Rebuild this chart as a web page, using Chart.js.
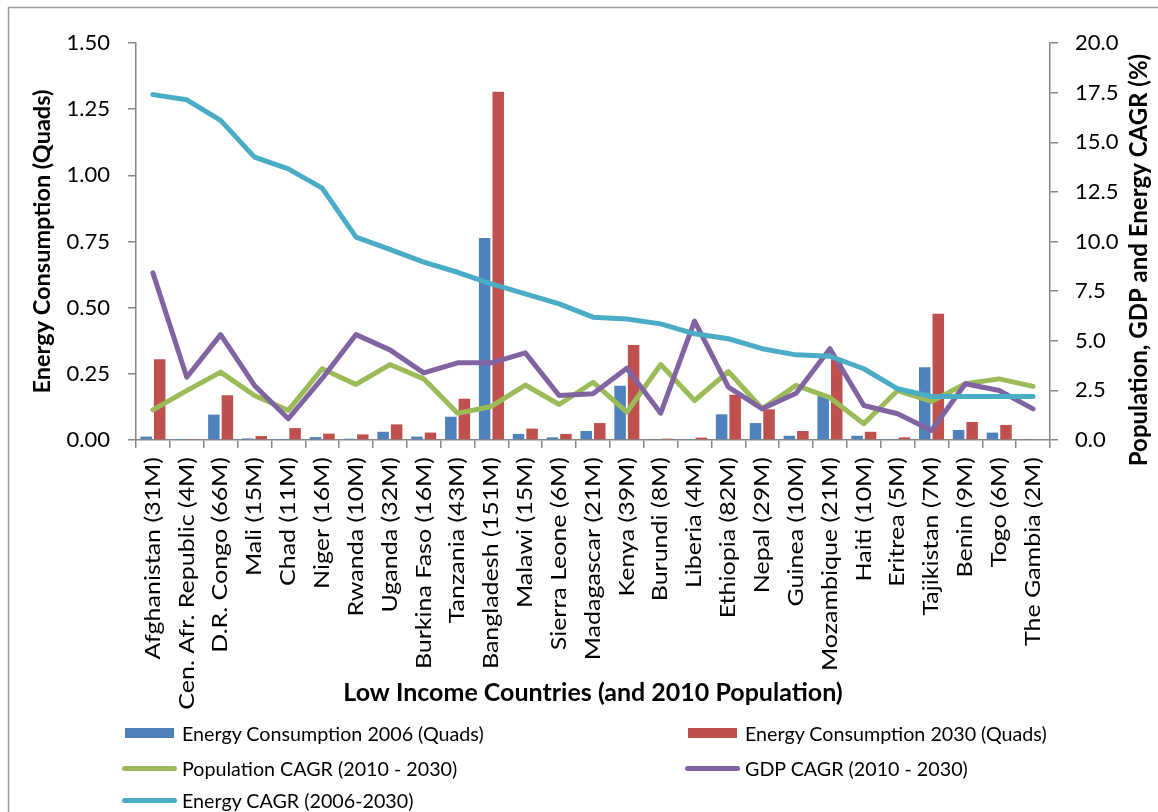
<!DOCTYPE html>
<html>
<head>
<meta charset="utf-8">
<title>Low Income Countries – Energy Consumption and Growth</title>
<script src="https://cdn.jsdelivr.net/npm/chart.js@4.4.1/dist/chart.umd.min.js"></script>
<style>
  html, body { margin: 0; padding: 0; background: #ffffff; overflow: hidden; }
  #wrap { position: relative; width: 1158px; height: 812px; }
  #chart { position: absolute; left: 0; top: 0; }
  .legend-item { position: absolute; height: 30px; display: flex; align-items: center;
                 font-family: Lato, "Open Sans", sans-serif; font-size: 19.7px; color: #000; white-space: nowrap; }
  .swatch { display: inline-block; margin-right: 6px; }
</style>
</head>
<body>
<div id="wrap">
  <canvas id="chart" width="1158" height="812"></canvas>
</div>
<script>
// Countries with their 2010 population
const categories = [
  "Afghanistan (31M)", "Cen. Afr. Republic (4M)", "D.R. Congo (66M)", "Mali (15M)",
  "Chad (11M)", "Niger (16M)", "Rwanda (10M)", "Uganda (32M)", "Burkina Faso (16M)",
  "Tanzania (43M)", "Bangladesh (151M)", "Malawi (15M)", "Sierra Leone (6M)",
  "Madagascar (21M)", "Kenya (39M)", "Burundi (8M)", "Liberia (4M)", "Ethiopia (82M)",
  "Nepal (29M)", "Guinea (10M)", "Mozambique (21M)", "Haiti (10M)", "Eritrea (5M)",
  "Tajikistan (7M)", "Benin (9M)", "Togo (6M)", "The Gambia (2M)"
];

// Energy consumption, quadrillion BTU
const energy2006 = [0.013, 0.001, 0.096, 0.006, 0.001, 0.011, 0.005, 0.031, 0.013, 0.088,
                    0.763, 0.023, 0.010, 0.034, 0.205, 0.002, 0.002, 0.097, 0.064, 0.016,
                    0.167, 0.016, 0.004, 0.275, 0.038, 0.028, 0.002];
const energy2030 = [0.305, 0.004, 0.169, 0.015, 0.045, 0.024, 0.021, 0.059, 0.028, 0.156,
                    1.316, 0.043, 0.023, 0.064, 0.359, 0.005, 0.009, 0.171, 0.116, 0.034,
                    0.310, 0.031, 0.010, 0.477, 0.068, 0.057, 0.003];

// Compound annual growth rates, %
const populationCagr = [1.52, 2.49, 3.42, 2.24, 1.49, 3.59, 2.80, 3.80, 3.08, 1.35,
                        1.69, 2.77, 1.79, 2.91, 1.40, 3.80, 1.99, 3.45, 1.57, 2.75,
                        2.13, 0.82, 2.49, 1.94, 2.83, 3.08, 2.70];
const gdpCagr = [8.42, 3.16, 5.31, 2.75, 1.07, 3.10, 5.31, 4.54, 3.38, 3.89,
                 3.89, 4.39, 2.24, 2.33, 3.62, 1.35, 5.99, 2.66, 1.57, 2.36,
                 4.60, 1.74, 1.32, 0.48, 2.83, 2.49, 1.57];
const energyCagr = [17.40, 17.14, 16.10, 14.25, 13.66, 12.69, 10.22, 9.60, 8.96, 8.45,
                    7.87, 7.36, 6.86, 6.19, 6.10, 5.85, 5.35, 5.10, 4.60, 4.29,
                    4.22, 3.59, 2.58, 2.19, 2.19, 2.19, 2.19];

// Axis tick values
const leftTicks = [0, 0.25, 0.5, 0.75, 1.0, 1.25, 1.5];
const rightTicks = [0, 2.5, 5, 7.5, 10, 12.5, 15, 17.5, 20];

const AXIS_GREY = '#868686';
const FONT = 'Lato, "Open Sans", sans-serif';
const RIGHT_TITLE = 'Population, GDP and Energy CAGR (%)';

// Outer frame around the whole chart
const frame = {
  id: 'frame',
  beforeDraw(chart) {
    const ctx = chart.ctx;
    ctx.save();
    ctx.strokeStyle = '#9a9a9a';
    ctx.lineWidth = 1.5;
    ctx.strokeRect(8.5, 7.5, 1300, 1000);
    ctx.restore();
  }
};

// Category labels (read upward, slightly widened along the text) and the right axis title
const axisText = {
  id: 'axisText',
  afterDraw(chart) {
    const ctx = chart.ctx;
    const xs = chart.scales.x;
    ctx.save();
    ctx.fillStyle = '#000';
    ctx.font = '21px ' + FONT;
    ctx.textAlign = 'right';
    ctx.textBaseline = 'middle';
    chart.data.labels.forEach((lab, i) => {
      const x = xs.getPixelForTick(i);
      ctx.save();
      ctx.translate(x, xs.top + 17);
      ctx.rotate(-Math.PI / 2);
      ctx.scale(1.19, 1);
      ctx.fillText(lab, 0, 0);
      ctx.restore();
    });
    ctx.font = 'bold 24px ' + FONT;
    ctx.textAlign = 'center';
    ctx.translate(1139, 260);
    ctx.rotate(-Math.PI / 2);
    ctx.fillText(RIGHT_TITLE, 0, 0);
    ctx.restore();
  }
};

const lineStyle = { type: 'line', yAxisID: 'y1', borderWidth: 5, pointRadius: 0, pointHoverRadius: 0,
                    tension: 0, fill: false, borderCapStyle: 'round', borderJoinStyle: 'round' };

const chart = new Chart(document.getElementById('chart'), {
  data: {
    labels: categories,
    datasets: [
      { type: 'bar', label: 'Energy Consumption 2006 (Quads)', data: energy2006, yAxisID: 'y',
        backgroundColor: '#4F81BD', order: 10, categoryPercentage: 0.8, barPercentage: 0.85 },
      { type: 'bar', label: 'Energy Consumption 2030 (Quads)', data: energy2030, yAxisID: 'y',
        backgroundColor: '#C0504D', order: 10, categoryPercentage: 0.8, barPercentage: 0.85 },
      Object.assign({ label: 'Population CAGR (2010 - 2030)', data: populationCagr,
        borderColor: '#9BBB59', backgroundColor: '#9BBB59', order: 3 }, lineStyle),
      Object.assign({ label: 'GDP CAGR (2010 - 2030)', data: gdpCagr,
        borderColor: '#8064A2', backgroundColor: '#8064A2', order: 2 }, lineStyle),
      Object.assign({ label: 'Energy CAGR (2006-2030)', data: energyCagr,
        borderColor: '#4BACC6', backgroundColor: '#4BACC6', order: 1 }, lineStyle)
    ]
  },
  options: {
    responsive: false,
    animation: false,
    layout: { padding: { left: 8, top: 43, right: 0, bottom: 0 } },
    plugins: { legend: { display: false }, tooltip: { enabled: false } },
    scales: {
      x: {
        type: 'category',
        offset: true,
        grid: { offset: true, drawOnChartArea: false, drawTicks: true, tickLength: 8, color: AXIS_GREY, lineWidth: 1.5 },
        border: { color: AXIS_GREY, width: 1.5 },
        ticks: { display: false, autoSkip: false },
        title: { display: true, text: 'Low Income Countries (and 2010 Population)', color: '#000',
                 font: { family: FONT, size: 25, weight: 'bold' }, padding: { top: 0, bottom: 104 } },
        afterFit(scale) { scale.height = 372; }
      },
      y: {
        position: 'left',
        min: 0, max: 1.5,
        afterBuildTicks(scale) { scale.ticks = leftTicks.map(v => ({ value: v })); },
        grid: { drawOnChartArea: false, drawTicks: true, tickLength: 8, color: AXIS_GREY, lineWidth: 1.5 },
        border: { color: AXIS_GREY, width: 1.5 },
        ticks: { padding: 18, color: '#000', font: { family: FONT, size: 22 },
                 callback: v => Number(v).toFixed(2) },
        title: { display: true, text: 'Energy Consumption (Quads)', color: '#000',
                 font: { family: FONT, size: 23.5, weight: 'bold' }, padding: { top: 20, bottom: 0 } },
        afterFit(scale) { scale.width = 128; }
      },
      y1: {
        position: 'right',
        min: 0, max: 20,
        afterBuildTicks(scale) { scale.ticks = rightTicks.map(v => ({ value: v })); },
        grid: { drawOnChartArea: false, drawTicks: true, tickLength: 8, color: AXIS_GREY, lineWidth: 1.5 },
        border: { color: AXIS_GREY, width: 1.5 },
        ticks: { padding: 17, color: '#000', font: { family: FONT, size: 22 },
                 callback: v => Number(v).toFixed(1) },
        afterFit(scale) { scale.width = 108; }
      }
    }
  },
  plugins: [frame, axisText]
});

// Two-column legend under the chart
const legendSlots = [
  { x: 122, y: 718 }, { x: 685, y: 718 },
  { x: 122, y: 753 }, { x: 685, y: 753 },
  { x: 122, y: 785 }
];
const wrap = document.getElementById('wrap');
chart.data.datasets.forEach((ds, i) => {
  const item = document.createElement('div');
  item.className = 'legend-item';
  item.style.left = legendSlots[i].x + 'px';
  item.style.top = legendSlots[i].y + 'px';
  const sw = document.createElement('span');
  sw.className = 'swatch';
  if (ds.type === 'bar') {
    sw.style.cssText = 'width:49px;height:10px;margin-left:3px;margin-right:8px;background:' + ds.backgroundColor;
  } else {
    sw.style.cssText = 'width:55px;height:5px;border-radius:3px;margin-right:5px;background:' + ds.borderColor;
  }
  item.appendChild(sw);
  item.appendChild(document.createTextNode(ds.label));
  wrap.appendChild(item);
});
</script>
</body>
</html>
